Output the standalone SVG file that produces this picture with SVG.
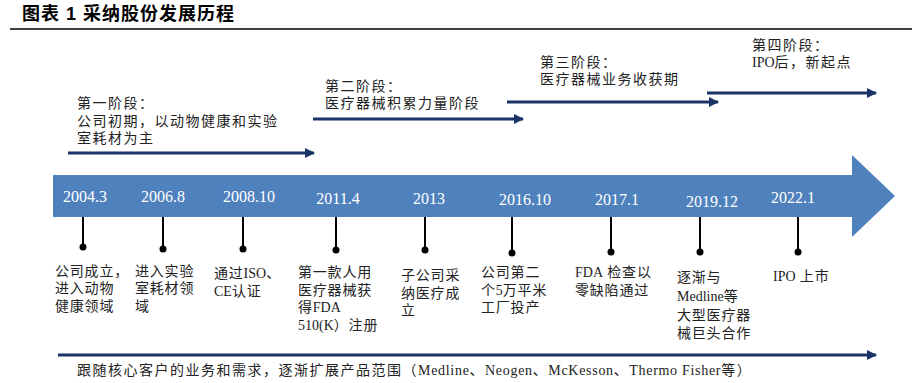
<svg xmlns="http://www.w3.org/2000/svg" width="921" height="383" viewBox="0 0 921 383">
<style>
.title{font-family:"Liberation Sans","Noto Sans CJK SC",sans-serif;font-size:18px;font-weight:bold;fill:#000;letter-spacing:1px}
.stage{font-family:"Liberation Serif","Noto Sans CJK SC",serif;font-size:14px;fill:#222;letter-spacing:1.5px}
.ev{font-family:"Liberation Serif","Noto Sans CJK SC",serif;font-size:14px;fill:#222;letter-spacing:0.8px}
.lat{font-family:"Liberation Serif",serif;letter-spacing:0}
.blat{font-family:"Liberation Serif",serif;letter-spacing:0.7px}
.date{font-family:"Liberation Serif",serif;font-size:16px;fill:#fff;text-anchor:middle}
.sarrow{stroke:#1B3468;stroke-width:3;fill:none;marker-end:url(#ah)}
.tick{stroke:#000;stroke-width:2}
.dot{fill:#000}
</style>
<defs>
<marker id="ah" viewBox="0 0 10 10" refX="9" refY="5" markerWidth="3.4" markerHeight="3.4" orient="auto" markerUnits="strokeWidth">
<path d="M0,0 L10,5 L0,10 Z" fill="#1B3468"/>
</marker>
</defs>
<rect width="921" height="383" fill="#fff"/>
<g id="title">
<text class="title" x="22" y="20">图表 1 采纳股份发展历程</text>
<line x1="10" y1="29" x2="912" y2="29" stroke="#000" stroke-width="1.5"/>
</g>
<g id="timeline">
<polygon points="53,175 852,175 852,155 895,196 852,237 852,217 53,217" fill="#4F81BD"/>
</g>
<g id="stage1">
<text class="stage" x="77" y="108">第一阶段：</text>
<text class="stage" x="77" y="126">公司初期，以动物健康和实验</text>
<text class="stage" x="77" y="143">室耗材为主</text>
</g>
<g id="stage2">
<text class="stage" x="325" y="91">第二阶段：</text>
<text class="stage" x="325" y="108">医疗器械积累力量阶段</text>
</g>
<g id="stage3">
<text class="stage" x="540" y="67">第三阶段：</text>
<text class="stage" x="540" y="84">医疗器械业务收获期</text>
</g>
<g id="stage4">
<text class="stage" x="752" y="50">第四阶段：</text>
<text class="stage" x="752" y="67"><tspan class="lat">IPO</tspan>后，新起点</text>
</g>
<g id="connectors">
<line class="sarrow" x1="68" y1="153" x2="314" y2="153"/>
<line class="sarrow" x1="313" y1="119" x2="523" y2="119"/>
<line class="sarrow" x1="507" y1="102" x2="718" y2="102"/>
<line class="sarrow" x1="707" y1="93" x2="876" y2="93"/>
<line class="sarrow" x1="58" y1="355" x2="876" y2="355"/>
</g>
<g id="e2004">
<text class="date" x="85" y="202">2004.3</text>
<line class="tick" x1="83" y1="217" x2="83" y2="247"/><circle class="dot" cx="83" cy="247" r="3.5"/>
<text class="ev" x="55" y="276">公司成立，</text>
<text class="ev" x="55" y="293">进入动物</text>
<text class="ev" x="55" y="311">健康领域</text>
</g>
<g id="e2006">
<text class="date" x="163" y="202">2006.8</text>
<line class="tick" x1="163" y1="217" x2="163" y2="249"/><circle class="dot" cx="163" cy="249" r="3.5"/>
<text class="ev" x="135" y="276">进入实验</text>
<text class="ev" x="135" y="293">室耗材领</text>
<text class="ev" x="135" y="311">域</text>
</g>
<g id="e2008">
<text class="date" x="249" y="202">2008.10</text>
<line class="tick" x1="243" y1="217" x2="243" y2="249"/><circle class="dot" cx="243" cy="249" r="3.5"/>
<text class="ev" x="214" y="278">通过<tspan class="lat">ISO</tspan>、</text>
<text class="ev" x="214" y="296"><tspan class="lat">CE</tspan>认证</text>
</g>
<g id="e2011">
<text class="date" x="338" y="204">2011.4</text>
<line class="tick" x1="336" y1="217" x2="336" y2="250"/><circle class="dot" cx="336" cy="250" r="3.5"/>
<text class="ev" x="298" y="277">第一款人用</text>
<text class="ev" x="298" y="295">医疗器械获</text>
<text class="ev" x="298" y="312">得<tspan class="lat">FDA</tspan></text>
<text class="ev" x="298" y="330"><tspan class="lat">510(K</tspan>）注册</text>
</g>
<g id="e2013">
<text class="date" x="429" y="204">2013</text>
<line class="tick" x1="425" y1="217" x2="425" y2="250"/><circle class="dot" cx="425" cy="250" r="3.5"/>
<text class="ev" x="401" y="280">子公司采</text>
<text class="ev" x="401" y="298">纳医疗成</text>
<text class="ev" x="401" y="315">立</text>
</g>
<g id="e2016">
<text class="date" x="525" y="205">2016.10</text>
<line class="tick" x1="512" y1="217" x2="512" y2="253"/><circle class="dot" cx="512" cy="253" r="3.5"/>
<text class="ev" x="481" y="277">公司第二</text>
<text class="ev" x="481" y="295">个<tspan class="lat">5</tspan>万平米</text>
<text class="ev" x="481" y="312">工厂投产</text>
</g>
<g id="e2017">
<text class="date" x="617" y="205">2017.1</text>
<line class="tick" x1="611" y1="217" x2="611" y2="252"/><circle class="dot" cx="611" cy="252" r="3.5"/>
<text class="ev" x="575" y="277"><tspan class="lat">FDA</tspan> 检查以</text>
<text class="ev" x="575" y="295">零缺陷通过</text>
</g>
<g id="e2019">
<text class="date" x="712" y="207">2019.12</text>
<line class="tick" x1="700" y1="217" x2="700" y2="252"/><circle class="dot" cx="700" cy="252" r="3.5"/>
<text class="ev" x="677" y="282">逐渐与</text>
<text class="ev" x="677" y="301"><tspan class="lat">Medline</tspan>等</text>
<text class="ev" x="677" y="320">大型医疗器</text>
<text class="ev" x="677" y="338">械巨头合作</text>
</g>
<g id="e2022">
<text class="date" x="793" y="203">2022.1</text>
<line class="tick" x1="798" y1="217" x2="798" y2="252"/><circle class="dot" cx="798" cy="252" r="3.5"/>
<text class="ev" x="773" y="281"><tspan class="lat">IPO</tspan> 上市</text>
</g>
<g id="bottom">
<text class="stage" x="77" y="375">跟随核心客户的业务和需求，逐渐扩展产品范围（<tspan class="blat">Medline</tspan>、<tspan class="blat">Neogen</tspan>、<tspan class="blat">McKesson</tspan>、<tspan class="blat">Thermo Fisher</tspan>等）</text>
</g>
</svg>
